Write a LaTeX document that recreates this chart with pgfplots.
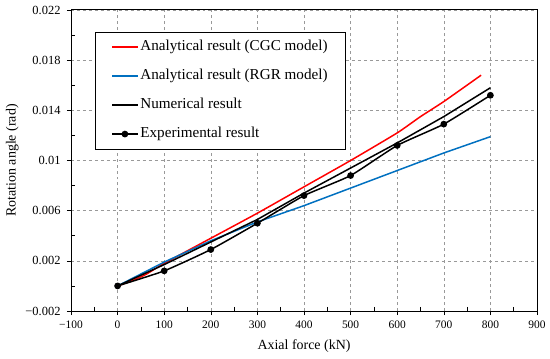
\documentclass[border=0pt]{standalone}
\usepackage{pgfplots}
\pgfplotsset{compat=1.18}
\usepackage{fontspec}
\setmainfont{Liberation Serif}
\definecolor{cgc}{RGB}{255,0,0}
\definecolor{rgr}{RGB}{0,112,192}
\begin{document}
\begin{tikzpicture}
\begin{axis}[
  scale only axis,
  width=466bp, height=301bp,
  xmin=-100, xmax=900, ymin=-0.002, ymax=0.022,
  scaled y ticks=false, scaled x ticks=false,
  xtick={-100,0,100,200,300,400,500,600,700,800,900},
  xticklabels={−100,0,100,200,300,400,500,600,700,800,900},
  ytick={-0.002,0.002,0.006,0.01,0.014,0.018,0.022},
  yticklabels={−0.002,0.002,0.006,0.01,0.014,0.018,0.022},
  minor x tick num=1, minor y tick num=1,
  tick align=outside,
  major tick length=4bp, minor tick length=-4bp,
  tick style={black, line width=0.6pt},
  xtick pos=bottom, ytick pos=left,
  grid=major,
  major grid style={gray!80, dashed, line width=0.6pt},
  axis line style={line width=1pt},
  xticklabel style={font=\fontsize{11.5}{13}\selectfont, yshift=-2bp},
  yticklabel style={font=\fontsize{12.5}{14}\selectfont, xshift=-3bp},
  xlabel={Axial force (kN)},
  ylabel={Rotation angle (rad)},
  label style={font=\fontsize{14}{16}\selectfont},
  xlabel style={yshift=-5bp},
  ylabel style={yshift=0bp},
  legend style={
    at={(0.0515,0.928)}, anchor=north west,
    draw=black, line width=0.8pt,
    font=\fontsize{15.2}{17}\selectfont,
    nodes={inner ysep=0pt, text height=12bp, text depth=5bp},
    row sep=12bp, inner xsep=16bp, inner ysep=6.5bp,
    legend cell align=left,
  },
  legend image code/.code={
    \draw[mark repeat=2,mark phase=2,line width=1.5pt] plot coordinates {(0cm,0cm) (0.45cm,0cm) (0.9cm,0cm)};
  },
]
\addplot[cgc, line width=1.5pt, smooth, tension=0.3] coordinates {
 (0,0) (30,0.0004) (60,0.0009) (100,0.0018) (200,0.0038) (300,0.0058) (400,0.0079) (500,0.0100) (600,0.0122) (650,0.0135) (700,0.0147) (780,0.0168)};
\addlegendentry{Analytical result (CGC model)}
\addplot[rgr, line width=1.5pt] coordinates {
 (0,0) (100,0.0019) (200,0.0036) (300,0.0051) (400,0.0064) (500,0.0078) (600,0.0092) (700,0.0106) (800,0.0119)};
\addlegendentry{Analytical result (RGR model)}
\addplot[black, line width=1.5pt] coordinates {
 (0,0) (100,0.0017) (200,0.0035) (300,0.0053) (400,0.0074) (500,0.0094) (600,0.0114) (700,0.0135) (800,0.0158)};
\addlegendentry{Numerical result}
\addplot[black, line width=1.5pt, mark=*, mark size=2.6pt, smooth, tension=0.3] coordinates {
 (0,0) (100,0.0012) (200,0.0029) (300,0.0050) (400,0.0072) (500,0.0088) (600,0.0112) (700,0.0129) (800,0.0152)};
\addlegendentry{Experimental result}
\end{axis}
\pgfresetboundingbox
\path ([shift={(-71bp,-48bp)}]current axis.south west) rectangle ([shift={(13bp,10bp)}]current axis.north east);
\end{tikzpicture}
\end{document}
